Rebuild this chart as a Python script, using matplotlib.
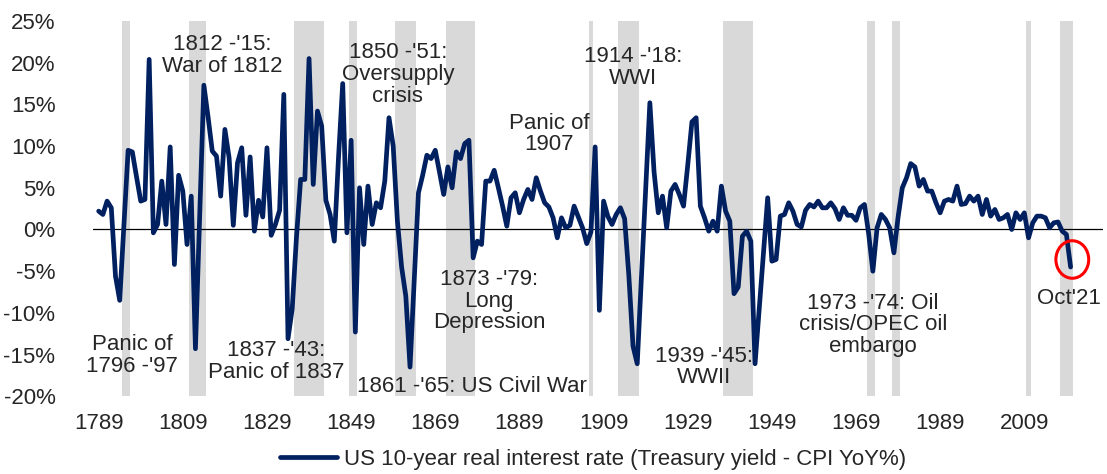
import numpy as np
import matplotlib
matplotlib.use('Agg')
import matplotlib.pyplot as plt
from matplotlib.patches import Ellipse

plt.rcParams['font.family'] = ['Liberation Sans', 'DejaVu Sans']

# US 10-year real interest rate (%), annual 1790 - 2021
real_rate = [
    2.2, 1.8, 3.4, 2.6, -5.6, -8.5, 0.5, 9.5, 9.3, 6.3,            # 1790s
    3.4, 3.6, 20.4, -0.4, 0.6, 5.8, 0.6, 9.9, -4.2, 6.5,           # 1800s
    4.6, -1.8, 4.0, -14.3, 1.5, 17.3, 13.5, 9.4, 8.8, 4.0,         # 1810s
    12.0, 8.6, 0.5, 8.0, 9.8, 1.7, 8.7, -0.2, 3.5, 1.5,            # 1820s
    9.8, -0.7, 0.6, 2.3, 16.2, -13.1, -9.5, -1.0, 6.0, 6.0,        # 1830s
    20.5, 5.4, 14.2, 12.4, 3.5, 1.8, -1.4, 8.6, 17.5, -0.4,        # 1840s
    10.7, -12.3, 5.0, -1.8, 5.2, 0.6, 3.2, 2.6, 5.8, 13.4,         # 1850s
    10.0, 1.0, -4.5, -8.0, -16.5, -6.0, 4.4, 6.5, 8.9, 8.5,        # 1860s
    9.5, 6.9, 4.2, 7.5, 5.0, 9.3, 8.5, 10.3, 10.7, -3.4,           # 1870s
    -1.4, -1.8, 5.8, 5.8, 7.1, 5.0, 2.8, 0.4, 3.8, 4.4,            # 1880s
    2.0, 3.6, 4.8, 3.6, 6.2, 4.6, 3.2, 2.7, 1.4, -1.0,             # 1890s
    1.4, 0.2, 0.5, 2.8, 1.5, 0.2, -1.7, -0.3, 9.9, -9.7,           # 1900s
    3.4, 1.6, 0.6, 1.8, 2.6, 1.3, -5.5, -14.0, -16.1, -5.7,        # 1910s
    4.7, 15.2, 6.9, 2.0, 4.0, 0.2, 4.6, 5.4, 4.2, 2.8,             # 1920s
    7.7, 12.9, 13.4, 2.8, 1.4, -0.2, 1.0, -0.2, 5.2, 2.2,          # 1930s
    1.0, -7.7, -6.9, -0.8, -0.2, -1.4, -16.1, -9.5, -2.8, 3.8,     # 1940s
    -3.8, -3.6, 1.6, 1.8, 3.2, 2.2, 0.6, 0.3, 2.3, 3.0,            # 1950s
    2.7, 3.4, 2.6, 2.6, 3.2, 2.5, 1.2, 2.6, 1.7, 1.7,              # 1960s
    1.1, 2.6, 3.0, -0.5, -5.0, 0.2, 1.8, 1.2, 0.2, -2.8,           # 1970s
    1.5, 5.0, 6.2, 7.9, 7.5, 5.2, 6.0, 4.6, 4.6, 3.2,              # 1980s
    2.0, 3.4, 3.6, 3.4, 5.2, 3.0, 3.1, 4.0, 3.4, 4.0,              # 1990s
    1.8, 3.6, 1.6, 2.4, 1.2, 1.4, 1.8, 0.0, 2.0, 1.2,              # 2000s
    2.0, -1.0, 0.8, 1.6, 1.6, 1.4, 0.2, 0.8, 0.9, -0.2,            # 2010s
    -0.6, -4.5,                                                    # 2020-21
]
years = np.arange(1790, 1790 + len(real_rate))

# shaded crisis periods (first and last year)
band_start = [1796, 1812, 1837, 1850, 1861, 1873, 1907, 1914, 1939, 1973, 1979, 2011, 2019]
band_end = [1797, 1815, 1843, 1851, 1865, 1879, 1907, 1918, 1945, 1974, 1980, 2011, 2021]

# x tick labels, one every 20 years
tick_pos = years[::20]
tick_labels = ['1789', '1809', '1829', '1849', '1869', '1889', '1909',
               '1929', '1949', '1969', '1989', '2009']

y_ticks = list(range(-20, 30, 5))

# event notes: (text, year, value)
notes = [
    ("Panic of\n1796 -'97", 1797.9, -15.1),
    ("1812 -'15:\nWar of 1812", 1819.3, 20.9),
    ("1837 -'43:\nPanic of 1837", 1832.2, -15.8),
    ("1850 -'51:\nOversupply\ncrisis", 1861.1, 18.6),
    ("1861 -'65: US Civil War", 1878.8, -18.85),
    ("1873 -'79:\nLong\nDepression", 1882.8, -8.6),
    ("Panic of\n1907", 1897.0, 11.45),
    ("1914 -'18:\nWWI", 1917.0, 19.4),
    ("1939 -'45:\nWWII", 1933.9, -16.5),
    ("1973 -'74: Oil\ncrisis/OPEC oil\nembargo", 1974.0, -11.45),
    ("Oct'21", 2020.6, -8.25),
]

navy = '#002060'
grey_txt = '#262626'
fs = 16

fig = plt.figure(figsize=(11.07, 4.74), dpi=100)
ax = fig.add_axes([0.084, 0.164, 0.9124, 0.7917])

for s, e in zip(band_start, band_end):
    ax.axvspan(s - 0.5, e + 0.5, color='#D9D9D9', lw=0, zorder=1)

ax.axhline(0, color='black', lw=0.9, zorder=2)
ax.plot(years, real_rate, color=navy, lw=3.4, solid_joinstyle='round',
        solid_capstyle='round', zorder=3,
        label='US 10-year real interest rate (Treasury yield - CPI YoY%)')

ax.add_patch(Ellipse((2021.4, -3.6), 7.8, 4.5, fill=False, edgecolor='#FF0000',
                     lw=2.2, zorder=4))

for txt, x, y in notes:
    ax.text(x, y, txt, ha='center', va='center', multialignment='center',
            fontsize=fs, color=grey_txt, linespacing=1.05, zorder=5)

ax.set_xlim(1788.65, 2028.7)
ax.set_ylim(-20, 25)
ax.set_yticks(y_ticks)
ax.set_yticklabels([f'{v}%' for v in y_ticks])
ax.set_xticks(tick_pos)
ax.set_xticklabels(tick_labels)
ax.tick_params(axis='both', length=0, labelsize=fs, colors=grey_txt)
ax.tick_params(axis='y', pad=27)
ax.tick_params(axis='x', pad=12)
for sp in ax.spines.values():
    sp.set_visible(False)

fig.legend(loc='center', bbox_to_anchor=(593 / 1107, 1 - 459 / 474),
           frameon=False, fontsize=fs, handlelength=2.6, handletextpad=0.3,
           labelcolor=grey_txt)

fig.savefig('out.png', dpi=100)
